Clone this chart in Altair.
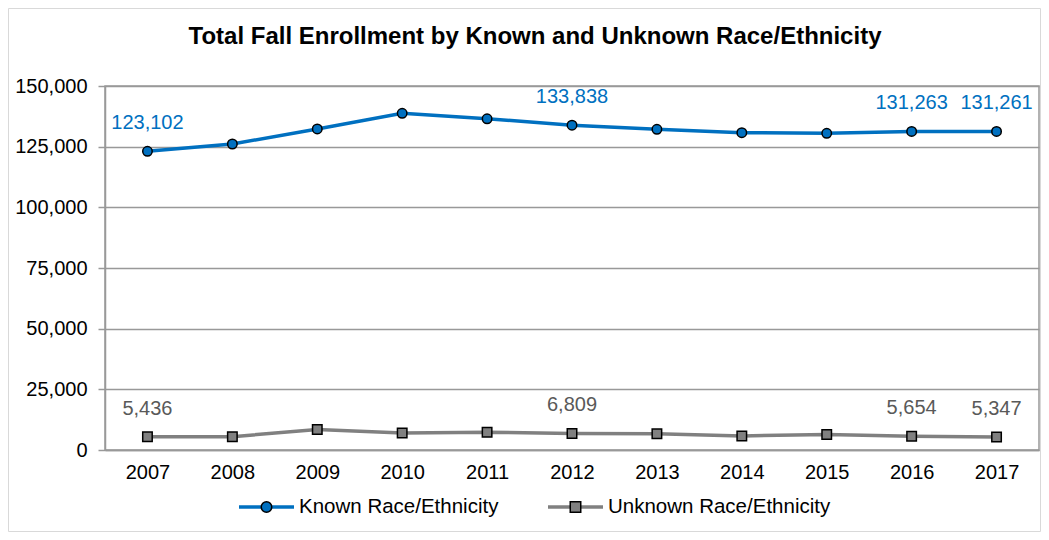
import altair as alt
import pandas as pd

years = ["2007", "2008", "2009", "2010", "2011", "2012", "2013", "2014", "2015", "2016", "2017"]
known = [123102, 126100, 132300, 138750, 136500, 133838, 132150, 130750, 130500, 131263, 131261]
unknown = [5436, 5500, 8400, 7000, 7300, 6809, 6700, 5800, 6400, 5654, 5347]
labeled_years = ["2007", "2012", "2016", "2017"]
series_names = ["Known Race/Ethnicity", "Unknown Race/Ethnicity"]
line_colors = ["#0070C0", "#808080"]
label_colors = ["#0070C0", "#595959"]
marker_shapes = ["circle", "square"]

rows = []
for y, k, u in zip(years, known, unknown):
    rows.append({"year": y, "series": series_names[0], "value": k, "lab": y in labeled_years})
    rows.append({"year": y, "series": series_names[1], "value": u, "lab": y in labeled_years})
df = pd.DataFrame(rows)
legend_df = pd.DataFrame({"series": series_names})

FONT = "Liberation Sans"
PAD_L, PAD_T, PAD_R, PAD_B = 97, 78, 2, 82
W, H = 934, 364
GRID = "#999999"

x_enc = alt.X("year:O", sort=years, title=None,
              axis=alt.Axis(labelAngle=0, labelFontSize=20, labelFont=FONT, labelColor="#000000",
                            ticks=False, labelPadding=12, domainColor=GRID, domainWidth=1.5, grid=False))
y_enc = alt.Y("value:Q", title=None,
              scale=alt.Scale(domain=[0, 150000], nice=False),
              axis=alt.Axis(values=[0, 25000, 50000, 75000, 100000, 125000, 150000],
                            labelExpr="format(datum.value, ',')",
                            labelFontSize=20, labelFont=FONT, labelColor="#000000",
                            ticks=True, tickSize=7, tickColor=GRID, tickWidth=1.5,
                            labelPadding=11, domainColor=GRID, domainWidth=1.5,
                            gridColor=GRID, gridWidth=1.5))

base = alt.Chart(df)

layers = []
for i, name in enumerate(series_names):
    sub = base.transform_filter(alt.datum.series == name)
    layers.append(sub.mark_line(strokeWidth=3.5, color=line_colors[i]).encode(x=x_enc, y=y_enc))
for i, name in enumerate(series_names):
    sub = base.transform_filter(alt.datum.series == name)
    layers.append(sub.mark_point(filled=True, shape=marker_shapes[i], size=90, fill=line_colors[i],
                                 stroke="#000000", strokeWidth=1.5, opacity=1).encode(x=x_enc, y=y_enc))
    layers.append(sub.transform_filter(alt.datum.lab == True).mark_text(
        dy=-28, fontSize=20, font=FONT, color=label_colors[i]).encode(
        x=x_enc, y=y_enc, text=alt.Text("value:Q", format=",")))

# legend (below the plot), one entry per series
LEG_Y = 421
LEG_X = [134, 443]
SEG = 55
for i, name in enumerate(series_names):
    lg = alt.Chart(legend_df).transform_filter(alt.datum.series == name)
    x0 = LEG_X[i]
    layers.append(lg.mark_rule(strokeWidth=3.5, color=line_colors[i]).encode(
        x=alt.value(x0), x2=alt.value(x0 + SEG), y=alt.value(LEG_Y)))
    layers.append(lg.mark_point(filled=True, shape=marker_shapes[i], size=110, fill=line_colors[i],
                                stroke="#000000", strokeWidth=1.5, opacity=1).encode(
        x=alt.value(x0 + SEG / 2), y=alt.value(LEG_Y)))
    layers.append(lg.mark_text(align="left", baseline="middle", fontSize=20.5, font=FONT,
                               color="#000000").encode(
        x=alt.value(x0 + SEG + 5), y=alt.value(LEG_Y), text="series:N"))

frame = alt.Chart(pd.DataFrame({"a": [0]})).mark_rect(fill=None, stroke="#d9d9d9", strokeWidth=1).encode(
    x=alt.value(-PAD_L + 0.5), x2=alt.value(W + PAD_R - 0.5),
    y=alt.value(-PAD_T + 0.5), y2=alt.value(H + PAD_B - 0.5)
)

chart = alt.layer(frame, *layers).properties(
    width=W, height=H,
    title=alt.TitleParams("Total Fall Enrollment by Known and Unknown Race/Ethnicity",
                          fontSize=24, font=FONT, fontWeight="bold", color="#000000",
                          anchor="middle", dx=-37, baseline="alphabetic", offset=-60),
    padding={"left": PAD_L, "top": PAD_T, "right": PAD_R, "bottom": PAD_B},
    autosize=alt.AutoSizeParams(type="none"),
    background="white",
).configure_view(stroke=GRID, strokeWidth=1.5)

chart.save("out.html", embed_options={"renderer": "svg", "actions": False})
